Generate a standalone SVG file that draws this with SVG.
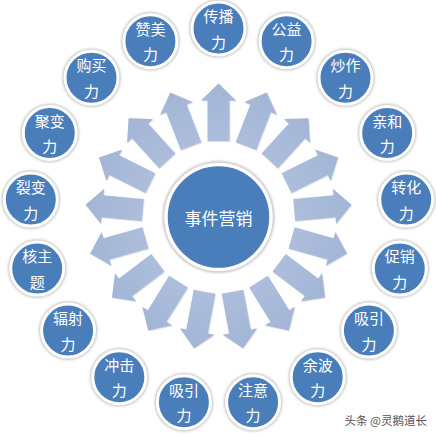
<svg xmlns="http://www.w3.org/2000/svg" xmlns:xlink="http://www.w3.org/1999/xlink" width="436" height="436" viewBox="0 0 436 436">
<style>
.bg{fill:#ffffff}
.shadow{fill:#c9c9c9;filter:url(#blur)}
.disc{fill:#4a7ebb;stroke:#ffffff;stroke-width:3}
.lbl{fill:#ffffff;font-family:"Noto Sans CJK SC","Noto Sans",sans-serif;font-size:15px;text-anchor:middle;dominant-baseline:central}
.ctr{fill:#ffffff;font-family:"Noto Sans CJK SC","Noto Sans",sans-serif;font-size:17px;text-anchor:middle;dominant-baseline:central}
.arrow{fill:url(#ag);filter:url(#ash)}
.wm{fill:#555555;font-family:"Noto Sans CJK SC","Noto Sans",sans-serif;font-size:11.5px;text-anchor:end}
</style>
<defs>
<filter id="blur" x="-20%" y="-20%" width="140%" height="140%"><feGaussianBlur stdDeviation="0.8"/></filter>
<filter id="ash" x="-30%" y="-30%" width="160%" height="160%"><feDropShadow dx="0.6" dy="0.8" stdDeviation="0.6" flood-color="#8090a8" flood-opacity="0.35"/></filter>
<linearGradient id="ag" x1="0" y1="0" x2="0" y2="1">
<stop offset="0" stop-color="#a3b5d6"/>
<stop offset="1" stop-color="#adbedc"/>
</linearGradient>
<path id="arr" d="M -11,-76 L -11,-116.5 L -17.5,-116.5 L 0,-133.5 L 17.5,-116.5 L 11,-116.5 L 11,-76 Z"/>
<g id="node">
<circle class="shadow" r="29.3"/>
<circle class="disc" r="26.5"/>
</g>
</defs>
<rect class="bg" width="436" height="436"/>
<g id="connectors" class="arrow" transform="translate(218.5,217)">
<use xlink:href="#arr" transform="rotate(0)"/>
<use xlink:href="#arr" transform="rotate(21.176)"/>
<use xlink:href="#arr" transform="rotate(42.353)"/>
<use xlink:href="#arr" transform="rotate(63.529)"/>
<use xlink:href="#arr" transform="rotate(84.706)"/>
<use xlink:href="#arr" transform="rotate(105.882)"/>
<use xlink:href="#arr" transform="rotate(127.059)"/>
<use xlink:href="#arr" transform="rotate(148.235)"/>
<use xlink:href="#arr" transform="rotate(169.412)"/>
<use xlink:href="#arr" transform="rotate(190.588)"/>
<use xlink:href="#arr" transform="rotate(211.765)"/>
<use xlink:href="#arr" transform="rotate(232.941)"/>
<use xlink:href="#arr" transform="rotate(254.118)"/>
<use xlink:href="#arr" transform="rotate(275.294)"/>
<use xlink:href="#arr" transform="rotate(296.471)"/>
<use xlink:href="#arr" transform="rotate(317.647)"/>
<use xlink:href="#arr" transform="rotate(338.824)"/>
</g>
<g id="center" transform="translate(218.5,217)">
<circle class="shadow" r="56"/>
<circle class="disc" r="52.5" style="stroke-width:3.5"/>
<text class="ctr" x="0" y="0">事件营销</text>
</g>
<g id="n0" transform="translate(218.5,28.5)"><use xlink:href="#node"/><text class="lbl" y="-13">传播</text><text class="lbl" y="12.5">力</text></g>
<g id="n1" transform="translate(286.6,41.2)"><use xlink:href="#node"/><text class="lbl" y="-13">公益</text><text class="lbl" y="12.5">力</text></g>
<g id="n2" transform="translate(345.5,77.7)"><use xlink:href="#node"/><text class="lbl" y="-13">炒作</text><text class="lbl" y="12.5">力</text></g>
<g id="n3" transform="translate(387.2,133)"><use xlink:href="#node"/><text class="lbl" y="-13">亲和</text><text class="lbl" y="12.5">力</text></g>
<g id="n4" transform="translate(406.2,199.6)"><use xlink:href="#node"/><text class="lbl" y="-13">转化</text><text class="lbl" y="12.5">力</text></g>
<g id="n5" transform="translate(399.8,268.6)"><use xlink:href="#node"/><text class="lbl" y="-13">促销</text><text class="lbl" y="12.5">力</text></g>
<g id="n6" transform="translate(368.9,330.6)"><use xlink:href="#node"/><text class="lbl" y="-13">吸引</text><text class="lbl" y="12.5">力</text></g>
<g id="n7" transform="translate(317.7,377.3)"><use xlink:href="#node"/><text class="lbl" y="-13">余波</text><text class="lbl" y="12.5">力</text></g>
<g id="n8" transform="translate(253.1,402.3)"><use xlink:href="#node"/><text class="lbl" y="-13">注意</text><text class="lbl" y="12.5">力</text></g>
<g id="n9" transform="translate(183.9,402.3)"><use xlink:href="#node"/><text class="lbl" y="-13">吸引</text><text class="lbl" y="12.5">力</text></g>
<g id="n10" transform="translate(119.3,377.3)"><use xlink:href="#node"/><text class="lbl" y="-13">冲击</text><text class="lbl" y="12.5">力</text></g>
<g id="n11" transform="translate(68.1,330.6)"><use xlink:href="#node"/><text class="lbl" y="-13">辐射</text><text class="lbl" y="12.5">力</text></g>
<g id="n12" transform="translate(37.2,268.6)"><use xlink:href="#node"/><text class="lbl" y="-13">核主</text><text class="lbl" y="12.5">题</text></g>
<g id="n13" transform="translate(30.8,199.6)"><use xlink:href="#node"/><text class="lbl" y="-13">裂变</text><text class="lbl" y="12.5">力</text></g>
<g id="n14" transform="translate(49.8,133)"><use xlink:href="#node"/><text class="lbl" y="-13">聚变</text><text class="lbl" y="12.5">力</text></g>
<g id="n15" transform="translate(91.5,77.7)"><use xlink:href="#node"/><text class="lbl" y="-13">购买</text><text class="lbl" y="12.5">力</text></g>
<g id="n16" transform="translate(150.4,41.2)"><use xlink:href="#node"/><text class="lbl" y="-13">赞美</text><text class="lbl" y="12.5">力</text></g>
<text class="wm" x="427" y="425">头条 @灵鹅道长</text>
</svg>
